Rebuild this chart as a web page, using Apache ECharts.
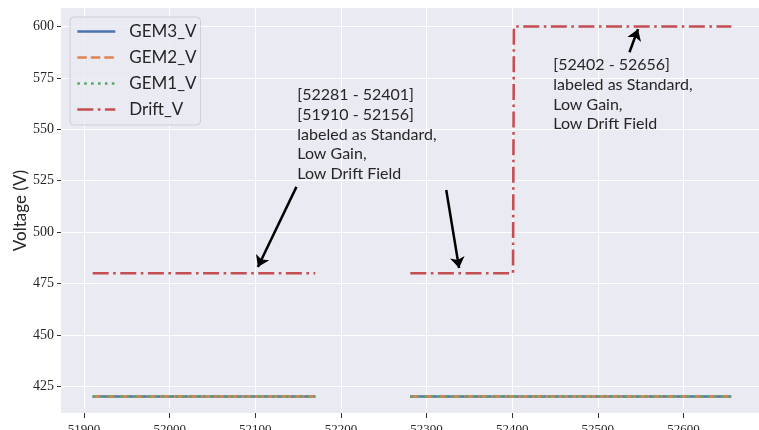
<!DOCTYPE html>
<html>
<head>
<meta charset="utf-8">
<script src="https://cdn.jsdelivr.net/npm/echarts@6/dist/echarts.min.js"></script>
<style>
  html, body { margin: 0; padding: 0; background: #fff; }
  #chart { width: 759px; height: 430px; }
</style>
</head>
<body>
<div id="chart"></div>
<script>
// Run voltages over run number: three GEM stages and the drift field.

const SANS = "Lato, 'Open Sans', sans-serif";
const SERIF = "'Liberation Serif', 'DejaVu Serif', serif";

const X_TICKS = [51900, 52000, 52100, 52200, 52300, 52400, 52500, 52600];
const Y_TICKS = [425, 450, 475, 500, 525, 550, 575, 600];

// [run, volts]; null splits the line between run blocks
const GEM_V = [[51910, 420], [52170, 420], [52220, null], [52281, 420], [52656, 420]];
const DRIFT_V = [
  [51910, 480], [52170, 480], [52220, null],
  [52281, 480], [52401, 480], [52402, 600], [52656, 600],
];

// annotation arrows, [tail, head] in data coords
const ARROWS = [
  [[52148, 522], [52103, 483]],
  [[52323, 520.5], [52338, 482.5]],
  [[52537, 587.5], [52547, 598.7]],
];
const NOTES = [
  { at: [52149, 571.5], text: "[52281 - 52401]\n[51910 - 52156]\nlabeled as Standard,\nLow Gain,\nLow Drift Field" },
  { at: [52448, 586], text: "[52402 - 52656]\nlabeled as Standard,\nLow Gain,\nLow Drift Field" },
];

const COLORS = { gem3: "#4c72b0", gem2: "#dd8452", gem1: "#55a868", drift: "#c44e52" };

const chart = echarts.init(document.getElementById("chart"), null, { renderer: "canvas" });

function lineSeries(name, data, color, type, z) {
  return {
    name,
    type: "line",
    data,
    symbol: "none",
    z,
    connectNulls: false,
    lineStyle: { color, width: 2.6, type, cap: "butt" },
    itemStyle: { color },
  };
}

chart.setOption({
  backgroundColor: "#fff",
  animation: false,
  grid: {
    left: 61, top: 8, width: 702, height: 405,
    outerBoundsMode: "none",
    show: true, backgroundColor: "#eaeaf2", borderWidth: 0,
  },
  xAxis: {
    type: "value",
    min: 51873,
    max: 52693,
    axisLine: { show: false },
    axisTick: { show: true, length: 5, customValues: X_TICKS, lineStyle: { color: "#333", width: 1 } },
    axisLabel: {
      customValues: X_TICKS, margin: 10, color: "#262626", fontFamily: SERIF, fontSize: 13,
      formatter: (v) => String(v),
    },
    splitLine: { show: true, lineStyle: { color: "#fff", width: 1 } },
  },
  yAxis: {
    type: "value",
    min: 412,
    max: 609,
    name: "Voltage (V)",
    nameLocation: "middle",
    nameGap: 32,
    nameMoveOverlap: false,
    nameTextStyle: { fontFamily: SANS, fontSize: 17, color: "#262626" },
    axisLine: { show: false },
    axisTick: { show: true, length: 4, customValues: Y_TICKS, lineStyle: { color: "#333", width: 1 } },
    axisLabel: { customValues: Y_TICKS, margin: 7, color: "#262626", fontFamily: SERIF, fontSize: 14 },
    splitLine: { show: true, lineStyle: { color: "#fff", width: 1 } },
  },
  legend: {
    orient: "vertical",
    left: 70,
    top: 17,
    padding: [6, 4, 7, 6],
    itemWidth: 38,
    itemHeight: 20,
    itemGap: 9,
    // hide the marker dot, keep the line sample
    itemStyle: { opacity: 0 },
    lineStyle: { width: 2.6 },
    backgroundColor: "rgba(234,234,242,0.8)",
    borderColor: "#cfcfd6",
    borderWidth: 1,
    borderRadius: 4,
    textStyle: { fontFamily: SANS, fontSize: 17, color: "#262626", padding: [0, 0, 0, 9] },
    data: ["GEM3_V", "GEM2_V", "GEM1_V", "Drift_V"],
  },
  series: [
    lineSeries("GEM3_V", GEM_V, COLORS.gem3, "solid", 2),
    lineSeries("GEM2_V", GEM_V, COLORS.gem2, [9.5, 4], 3),
    lineSeries("GEM1_V", GEM_V, COLORS.gem1, [2.6, 4.3], 4),
    lineSeries("Drift_V", DRIFT_V, COLORS.drift, [16, 4.5, 2.6, 4.5], 5),
    {
      type: "lines",
      coordinateSystem: "cartesian2d",
      z: 6,
      symbol: ["none", "arrow"],
      symbolSize: 11,
      lineStyle: { color: "#000", width: 2.5, opacity: 1 },
      data: ARROWS.map((a) => ({ coords: a })),
    },
  ],
});

// text notes anchored to data coords
chart.setOption({
  graphic: NOTES.map((n) => {
    const [px, py] = chart.convertToPixel({ gridIndex: 0 }, n.at);
    return {
      type: "text",
      x: px,
      y: py,
      z: 10,
      style: {
        text: n.text,
        fontFamily: SANS,
        fontSize: 16,
        lineHeight: 19.7,
        fill: "#262626",
        textAlign: "left",
        textVerticalAlign: "top",
      },
    };
  }),
});
</script>
</body>
</html>
